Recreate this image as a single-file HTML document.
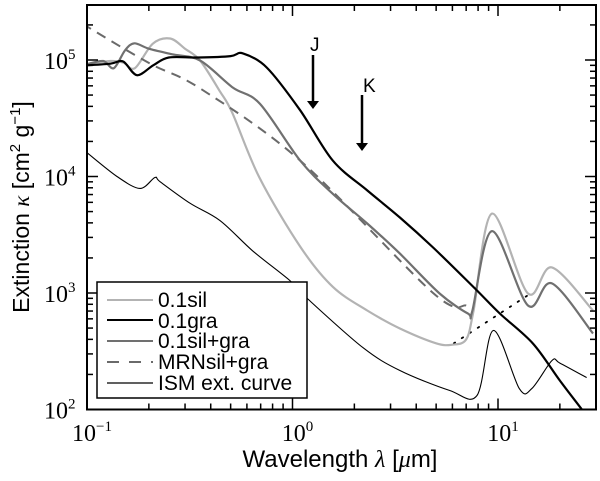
<!DOCTYPE html>
<html><head><meta charset="utf-8"><style>
html,body{margin:0;padding:0;background:#fff;}
svg{display:block;}
text{font-family:"Liberation Sans",sans-serif;}
.num{font-family:"Liberation Serif",serif;}
</style></head><body>
<svg id="chart" width="600" height="481" viewBox="0 0 600 481">
<defs><clipPath id="clip"><rect x="87" y="5" width="509" height="405"/></clipPath></defs>
<g id="plot" clip-path="url(#clip)"></g>
<g id="axes"></g>
</svg>
<script>
const silLam=[0.1,0.13,0.15,0.171,0.209,0.254,0.3,0.355,0.443,0.51,0.69,1.09,1.57,2.31,3.33,5.0,6.0,7.0,7.6,9.35,14,18.3,29];
const silK=[9.2e4,9.8e4,9.5e4,8.5e4,1.38e5,1.53e5,1.25e5,9.9e4,5.4e4,3.5e4,9.8e3,2.5e3,1.13e3,708,496,370,360,400,700,4.8e3,990,1.66e3,708];
const graLam=[0.1,0.13,0.15,0.175,0.21,0.25,0.35,0.5,0.574,0.75,1.09,1.57,2.31,3.33,4.83,7.9,10.2,14.8,20,25.6,28];
const graK=[9e4,9.3e4,9.7e4,7.4e4,9e4,1.05e5,1.05e5,1.08e5,1.14e5,8.6e4,3.7e4,1.37e4,7.6e3,4.45e3,2.46e3,1.05e3,667,368,177,100,80];
const mixLam=[0.1,0.12,0.135,0.153,0.17,0.2,0.26,0.355,0.513,0.695,1.09,1.57,2.31,3.33,5.2,7.14,7.5,9.35,14,18.3,29];
const mixK=[9.2e4,9.8e4,8.5e4,1.21e5,1.39e5,1.25e5,1.12e5,9.9e4,5.8e4,4.2e4,1.37e4,7.1e3,3.95e3,2.18e3,990,667,700,3.4e3,781,1.21e3,449];
const mrnLam=[0.1,0.1034,0.203,0.355,1.09,4.83,7.0];
const mrnK=[2.0e5,1.87e5,9.3e4,5.7e4,1.37e4,1.0e3,780];
const ismLam=[0.1,0.14,0.181,0.214,0.227,0.317,0.443,0.64,0.97,1.18,2.2,3.33,5.8,7.9,9.5,12.7,14.6,18.3,20,27];
const ismK=[1.6e4,1.0e4,7.9e3,9.8e3,9.0e3,5.9e3,4.2e3,2.3e3,1.28e3,897,340,216,146,132,477,151,151,263,250,188];
const dotLam=[6.1,13.9];
const dotK=[370,950];
const xTickLabels=["-1","0","1"];
const yTickLabels=["2","3","4","5"];

const X0=87,DX=205.5,YB=409.5,DY=116.5;
const sx=l=>X0+(Math.log10(l)+1)*DX;
const sy=k=>YB-(Math.log10(k)-2)*DY;
const NS="http://www.w3.org/2000/svg";
function mk(tag,attrs,parent){const e=document.createElementNS(NS,tag);for(const k in attrs)e.setAttribute(k,attrs[k]);parent.appendChild(e);return e;}
const plot=document.getElementById('plot'),axes=document.getElementById('axes');
function smoothPath(P){
  let d='M'+P[0][0].toFixed(1)+','+P[0][1].toFixed(1);
  for(let i=0;i<P.length-1;i++){
    const p0=P[Math.max(i-1,0)],p1=P[i],p2=P[i+1],p3=P[Math.min(i+2,P.length-1)];
    const t=0.16;
    const c1=[p1[0]+(p2[0]-p0[0])*t,p1[1]+(p2[1]-p0[1])*t];
    const c2=[p2[0]-(p3[0]-p1[0])*t,p2[1]-(p3[1]-p1[1])*t];
    d+=' C'+c1[0].toFixed(1)+','+c1[1].toFixed(1)+' '+c2[0].toFixed(1)+','+c2[1].toFixed(1)+' '+p2[0].toFixed(1)+','+p2[1].toFixed(1);
  }
  return d;
}
function series(lam,k,style,name){
  const P=lam.map((l,i)=>[sx(l),sy(k[i])]);
  const p=mk('path',Object.assign({d:smoothPath(P),fill:'none','stroke-linejoin':'round'},style),plot);
  
  
}
series(ismLam,ismK,{stroke:'#000','stroke-width':1.1},'ism-curve');
series(dotLam,dotK,{stroke:'#000','stroke-width':1.8,'stroke-dasharray':'1.5 8','stroke-linecap':'round'},'dotted-line');
series(silLam,silK,{stroke:'#b3b3b3','stroke-width':2.2},'sil-curve');
series(mrnLam,mrnK,{stroke:'#6a6a6a','stroke-width':2,'stroke-dasharray':'10 7'},'mrn-curve');
series(mixLam,mixK,{stroke:'#707070','stroke-width':2.2},'silgra-curve');
series(graLam,graK,{stroke:'#000','stroke-width':2.2},'gra-curve');

for(let e=-1;e<=1;e++)for(let m=1;m<10;m++){const v=m*Math.pow(10,e);const x=sx(v);if(x>596)continue;const L=m===1?11:6;
  const t1=mk('line',{x1:x,x2:x,y1:YB,y2:YB-L,stroke:'#000','stroke-width':1.5},axes);
  
  const t2=mk('line',{x1:x,x2:x,y1:5,y2:5+L,stroke:'#000','stroke-width':1.5},axes);
  }
for(let e=2;e<=5;e++)for(let m=1;m<10;m++){const v=m*Math.pow(10,e);const y=sy(v);if(y<5)continue;const L=m===1?11:6;
  const t1=mk('line',{x1:X0,x2:X0+L,y1:y,y2:y,stroke:'#000','stroke-width':1.5},axes);
  
  const t2=mk('line',{x1:596,x2:596-L,y1:y,y2:y,stroke:'#000','stroke-width':1.5},axes);
  }
const fr=mk('rect',{x:X0,y:5,width:509,height:YB-5,fill:'none',stroke:'#000','stroke-width':2},axes);


xTickLabels.forEach(s=>{const x=sx(Math.pow(10,+s));
  const t=mk('text',{x:x+5,y:441,'text-anchor':'middle','font-size':24,class:'num'},axes);
  
  t.innerHTML='10<tspan dy="-10" font-size="15">'+(s==='-1'?'\u22121':s)+'</tspan>';});
yTickLabels.forEach(s=>{const y=sy(Math.pow(10,+s));
  const t=mk('text',{x:44,y:y+9,'font-size':24,class:'num'},axes);
  
  t.innerHTML='10<tspan dy="-10" font-size="15">'+s+'</tspan>';});
</script>
<script>
const s2=document.getElementById('chart');
function add(html){s2.insertAdjacentHTML('beforeend',html);}
add('<text x="340" y="467" text-anchor="middle" font-size="24">Wavelength <tspan font-family="Liberation Serif" font-style="italic">λ</tspan> [<tspan font-family="Liberation Serif" font-style="italic">μ</tspan>m]</text>');
add('<text transform="translate(29,207) rotate(-90)" text-anchor="middle" font-size="23">Extinction <tspan font-family="Liberation Serif" font-style="italic">κ</tspan> [cm<tspan dy="-9" font-size="15">2</tspan><tspan dy="9"> g</tspan><tspan dy="-9" font-size="15">−1</tspan><tspan dy="9">]</tspan></text>');
add('<g><line x1="313" y1="55" x2="313" y2="102" stroke="#000" stroke-width="2.5"/><polygon points="307,101 319,101 313,109" fill="#000"/><text x="310" y="51" font-size="19">J</text></g>');
add('<g><line x1="362" y1="95" x2="362" y2="144" stroke="#000" stroke-width="2.5"/><polygon points="356,143 368,143 362,151" fill="#000"/><text x="363" y="92" font-size="19">K</text></g>');
add('<g><rect x="97" y="282" width="210" height="116" fill="#fff" stroke="#000" stroke-width="1.5"/>'+
'<g><line x1="107" y1="300" x2="153" y2="300" stroke="#b3b3b3" stroke-width="2"/><text x="158" y="307" font-size="21">0.1sil</text></g>'+
'<g><line x1="107" y1="320" x2="153" y2="320" stroke="#000" stroke-width="2"/><text x="158" y="328" font-size="21">0.1gra</text></g>'+
'<g><line x1="107" y1="341" x2="153" y2="341" stroke="#707070" stroke-width="2"/><text x="158" y="348" font-size="21">0.1sil+gra</text></g>'+
'<g><line x1="107" y1="362" x2="153" y2="362" stroke="#6a6a6a" stroke-width="2" stroke-dasharray="12 10"/><text x="158" y="369" font-size="21">MRNsil+gra</text></g>'+
'<g><line x1="107" y1="383" x2="153" y2="383" stroke="#000" stroke-width="1.3"/><text x="158" y="390" font-size="21">ISM ext. curve</text></g></g>');
</script>
</body></html>
